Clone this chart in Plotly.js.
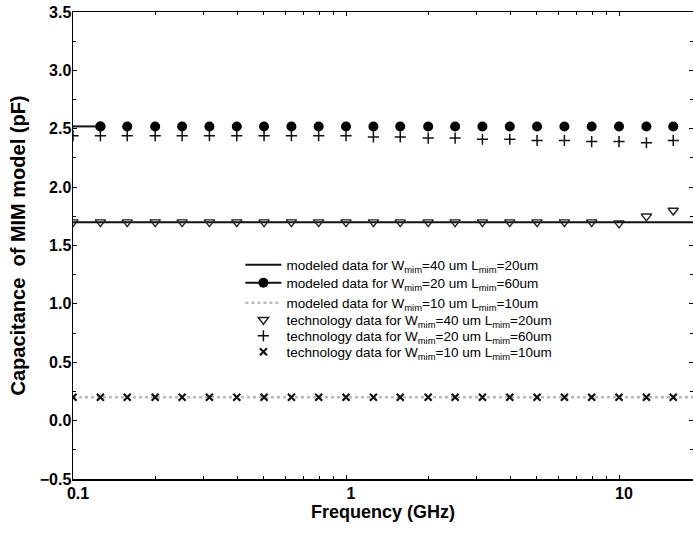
<!DOCTYPE html>
<html>
<head>
<meta charset="utf-8">
<script src="https://cdn.plot.ly/plotly-3.0.1.min.js"></script>
<style>html,body{margin:0;padding:0;background:#fff;}#chart{width:693px;height:533px;}</style>
</head>
<body>
<div id="chart"></div>
<script>
// Frequencies (GHz) of the sampled points
const techFreq = [0.1, 0.126, 0.158, 0.2, 0.251, 0.316, 0.398, 0.501, 0.631, 0.794, 1, 1.26, 1.58, 2, 2.51, 3.16, 3.98, 5.01, 6.31, 7.94, 10, 12.6, 15.8];
const circFreq = [0.126, 0.158, 0.2, 0.251, 0.316, 0.398, 0.501, 0.631, 0.794, 1, 1.26, 1.58, 2, 2.51, 3.16, 3.98, 5.01, 6.31, 7.94, 10, 12.6, 15.8];
// Modeled data (pF)
const modelFreq = [0.1, 20];
const model40x20 = [1.70, 1.70];
const model10x10 = [0.20, 0.20];
const model20x60Freq = [0.126, 0.1];
const model20x60 = [2.52, 2.52];
const model20x60Pts = [2.52, 2.52, 2.52, 2.52, 2.52, 2.52, 2.52, 2.52, 2.52, 2.52, 2.52, 2.52, 2.52, 2.52, 2.52, 2.52, 2.52, 2.52, 2.52, 2.52, 2.52, 2.52];
// Technology data (pF)
const tech40x20 = [1.70, 1.70, 1.70, 1.70, 1.70, 1.70, 1.70, 1.70, 1.70, 1.70, 1.70, 1.70, 1.70, 1.70, 1.70, 1.70, 1.70, 1.70, 1.70, 1.70, 1.69, 1.75, 1.80];
const tech20x60 = [2.44, 2.44, 2.44, 2.44, 2.44, 2.44, 2.44, 2.44, 2.44, 2.44, 2.44, 2.43, 2.43, 2.42, 2.42, 2.41, 2.41, 2.40, 2.40, 2.39, 2.39, 2.38, 2.40];
const tech10x10 = [0.20, 0.20, 0.20, 0.20, 0.20, 0.20, 0.20, 0.20, 0.20, 0.20, 0.20, 0.20, 0.20, 0.20, 0.20, 0.20, 0.20, 0.20, 0.20, 0.20, 0.20, 0.20, 0.20];
const legendNames = [
  'modeled data for W<sub>mim</sub>=40 um L<sub>mim</sub>=20um',
  'modeled data for W<sub>mim</sub>=20 um L<sub>mim</sub>=60um',
  'modeled data for W<sub>mim</sub>=10 um L<sub>mim</sub>=10um',
  'technology data for W<sub>mim</sub>=40 um L<sub>mim</sub>=20um',
  'technology data for W<sub>mim</sub>=20 um L<sub>mim</sub>=60um',
  'technology data for W<sub>mim</sub>=10 um L<sub>mim</sub>=10um'
];

const traces = [
  {x: modelFreq, y: model40x20, mode: 'lines', name: legendNames[0], legend: 'legend',
   line: {color: '#111', width: 2}},
  {x: model20x60Freq, y: model20x60, mode: 'lines+markers', name: legendNames[1], legend: 'legend2',
   line: {color: '#111', width: 2},
   marker: {symbol: 'circle', size: 10, color: ['#000', 'rgba(0,0,0,0)'], line: {width: 0}}},
  {x: circFreq, y: model20x60Pts, mode: 'markers', showlegend: false,
   marker: {symbol: 'circle', size: 10, color: '#000', line: {width: 0}}},
  {x: modelFreq, y: model10x10, mode: 'lines', name: legendNames[2], legend: 'legend3',
   line: {color: '#bbbbbb', width: 2.5, dash: 'dot'}},
  {x: techFreq, y: tech40x20, mode: 'markers', name: legendNames[3], legend: 'legend4',
   marker: {symbol: 'triangle-down-open', size: 9, color: '#222', line: {width: 1.4, color: '#222'}}},
  {x: techFreq, y: tech20x60, mode: 'markers', name: legendNames[4], legend: 'legend5',
   marker: {symbol: 'cross-thin', size: 8, color: '#111', line: {width: 1.5, color: '#111'}}},
  {x: techFreq, y: tech10x10, mode: 'markers', name: legendNames[5], legend: 'legend6',
   marker: {symbol: 'x-thin', size: 7, color: '#111', line: {width: 2.2, color: '#111'}}}
];

const tickFont = {family: 'Liberation Sans, Arial, sans-serif', size: 16, color: '#000', weight: 'bold'};
const xTitleFont = {family: 'Liberation Sans, Arial, sans-serif', size: 18, color: '#000', weight: 'bold'};
const yTitleFont = {family: 'Liberation Sans, Arial, sans-serif', size: 20, color: '#000', weight: 'bold'};
const legFont = {family: 'Liberation Sans, Arial, sans-serif', size: 13.5, color: '#000'};
// legend rows: pixel centres converted to paper fraction of the plot area (top 12, bottom 479)
function legendAt(rowY) {
  return {x: 0.27, y: (479 - rowY) / 467, xanchor: 'left', yanchor: 'middle',
          bgcolor: 'rgba(0,0,0,0)', borderwidth: 0, itemwidth: 36, font: legFont};
}
const layout = {
  width: 693, height: 533,
  margin: {l: 73, r: 0, t: 12, b: 54},
  paper_bgcolor: '#fff', plot_bgcolor: '#fff',
  showlegend: true,
  legend: legendAt(265),
  legend2: legendAt(283),
  legend3: legendAt(303),
  legend4: legendAt(320),
  legend5: legendAt(336),
  legend6: legendAt(352),
  xaxis: {type: 'log', range: [-1, 1.271], showgrid: false, zeroline: false,
          showline: true, linecolor: '#000', linewidth: 1.5, mirror: 'ticks',
          tickvals: [0.1, 1, 10], ticktext: ['0.1', '1', '10'],
          ticks: 'inside', ticklen: 4, tickcolor: '#000',
          ticklabelstandoff: -1, ticklabelshift: 5,
          minor: {ticks: 'inside', ticklen: 3, tickcolor: '#000', dtick: 'D1'},
          tickfont: tickFont,
          title: {text: 'Frequency (GHz)', font: xTitleFont, standoff: 0}},
  yaxis: {range: [-0.5, 3.5], showgrid: false, zeroline: false,
          showline: true, linecolor: '#000', linewidth: 1.5, mirror: 'ticks',
          dtick: 0.5, tickformat: '.1f', ticks: 'inside', ticklen: 4, tickcolor: '#000',
          ticklabelstandoff: -3,
          minor: {ticks: 'inside', ticklen: 3, tickcolor: '#000', dtick: 0.25},
          tickfont: tickFont,
          title: {text: 'Capacitance\u00a0 of MIM model (pF)', font: yTitleFont, standoff: 8}}
};

Plotly.newPlot('chart', traces, layout, {displayModeBar: false, staticPlot: true});
</script>
</body>
</html>
